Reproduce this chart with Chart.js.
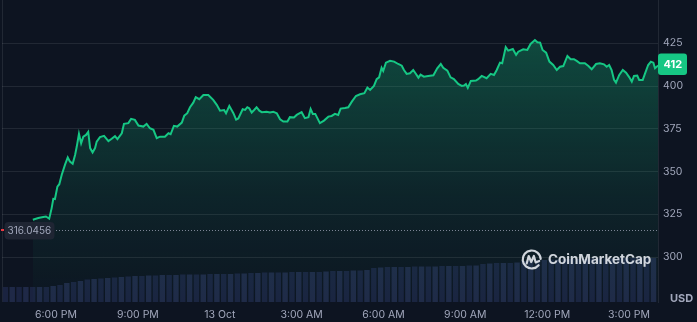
<!DOCTYPE html>
<html><head><meta charset="utf-8">
<script src="https://cdn.jsdelivr.net/npm/chart.js@4.4.1/dist/chart.umd.min.js"></script>
<style>html,body{margin:0;padding:0;background:#0d1421;overflow:hidden}</style>
</head><body>
<canvas id="c" width="697" height="322" style="display:block;width:697px;height:322px"></canvas>
<script>
// hours relative to 6:00 PM (12 Oct)
const priceTimes = [-0.85,-0.65,-0.47,-0.37,-0.25,-0.16,-0.10,-0.04,0.05,0.12,0.21,0.33,0.43,0.51,0.61,0.70,0.76,0.84,0.92,1.00,1.10,1.18,1.25,1.34,1.43,1.49,1.61,1.76,1.92,2.04,2.16,2.25,2.41,2.49,2.65,2.75,2.89,3.02,3.20,3.32,3.44,3.57,3.69,3.81,3.99,4.12,4.20,4.32,4.44,4.61,4.70,4.81,4.91,5.03,5.12,5.25,5.40,5.58,5.76,5.89,6.01,6.16,6.23,6.35,6.50,6.60,6.68,6.84,6.93,7.01,7.08,7.17,7.26,7.35,7.45,7.54,7.72,7.84,7.96,8.09,8.21,8.33,8.48,8.57,8.72,8.82,9.00,9.12,9.25,9.33,9.41,9.50,9.67,9.82,9.98,10.10,10.22,10.34,10.43,10.59,10.71,10.84,10.99,11.14,11.30,11.41,11.51,11.65,11.75,11.84,11.93,11.99,12.09,12.24,12.39,12.54,12.67,12.75,12.85,12.97,13.09,13.16,13.28,13.36,13.48,13.64,13.83,13.97,14.10,14.19,14.34,14.46,14.58,14.74,14.87,14.95,15.02,15.09,15.20,15.39,15.47,15.60,15.78,15.93,16.05,16.15,16.27,16.35,16.48,16.57,16.74,16.86,16.94,17.12,17.27,17.39,17.55,17.64,17.74,17.83,17.96,18.08,18.22,18.35,18.47,18.59,18.74,18.86,18.98,19.08,19.20,19.38,19.51,19.63,19.79,19.93,20.08,20.18,20.27,20.36,20.45,20.52,20.64,20.77,20.89,21.01,21.10,21.18,21.30,21.37,21.50,21.58,21.70,21.80,21.89,21.95,22.01,22.07];
const priceValues = [321.8,322.8,323.4,323.7,322.4,328.6,334.0,333.9,341.2,342.6,348.1,354.0,358.2,355.8,354.5,359.8,364.6,372.0,366.5,370.4,371.4,373.2,363.7,361.2,363.7,367.5,370.1,370.9,367.8,369.2,370.7,368.9,372.4,377.9,378.3,380.8,380.2,376.9,376.3,377.9,375.3,374.4,369.5,370.4,370.4,372.4,371.8,376.7,376.3,378.6,382.7,384.1,387.6,390.3,393.5,392.3,394.8,394.8,391.9,389.0,385.6,386.0,384.1,388.4,384.1,380.4,381.0,386.4,386.0,387.6,387.0,384.5,386.0,387.6,385.6,384.7,385.0,384.5,385.0,384.1,380.6,379.2,379.2,381.8,381.6,383.1,384.7,381.2,381.8,386.6,383.7,383.7,378.3,379.8,382.1,382.5,383.7,383.1,386.8,387.2,387.6,390.9,394.2,395.2,395.8,399.1,397.7,400.1,404.0,405.1,410.7,408.8,413.7,414.8,414.3,412.9,411.9,409.4,407.1,407.5,409.4,407.8,404.9,406.7,405.5,405.9,406.3,410.4,412.9,410.7,409.0,405.1,404.1,401.2,400.1,400.3,401.2,398.9,403.0,403.2,404.0,405.9,404.6,407.1,406.5,409.4,413.7,413.3,422.7,420.7,421.7,418.2,420.1,421.5,421.1,424.6,426.9,425.6,425.4,421.1,419.5,414.3,412.3,409.4,411.3,411.7,417.6,415.7,415.7,414.7,413.3,413.3,411.7,409.8,412.9,413.3,412.7,411.3,412.3,409.4,403.6,402.0,406.5,409.4,407.8,405.1,402.6,405.9,406.1,403.6,403.6,407.1,412.3,414.3,413.7,410.4,411.3,412.0];
// 15-minute volume bars (relative units), starting at the left edge of the window
const volumeValues = [15,15,15,15,15,15,15,16,17,19,20,21,22.5,23,23.5,24,24.5,25,25.5,26,26,26.5,26.5,27,27,27,27.5,27.5,27.5,27.5,28,28,28,28,28.5,28.5,29,29,29.5,29.5,29.5,29.5,30,30,30,30,30,30.5,31,31,31,31.5,31.5,32,34,34.5,35,35,35,35,35.5,35.5,35.5,35.5,36,36,36,36,36.5,36.5,38,38.5,39,39,39,39.5,41,41.5,42,42,42.5,42.5,43,43,43,43,43.5,43.5,43.5,43.5,44,44,44,44,44,44];
const xMinHour = -1.98, xMaxHour = 22.06;
const volumeStepHours = 0.25;
const xTickHours = [0,3,6,9,12,15,18,21];
const xTickLabels = ["6:00 PM","9:00 PM","13 Oct","3:00 AM","6:00 AM","9:00 AM","12:00 PM","3:00 PM"];
const yTickValues = [300,325,350,375,400,425];
const baselineValue = 316.0456;
const lastPrice = 412;

const FONT = "Inter, 'Noto Sans', sans-serif";
const GREEN = '#16c784';
const TEXT = '#a1a7bb';
const GRID = 'rgba(255,255,255,0.085)';

const pricePoints = priceTimes.map((t,i)=>({x:t,y:priceValues[i]}));
const volumePoints = volumeValues.map((v,i)=>({x:xMinHour + volumeStepHours*(i+0.5), y:v}));

const decor = {
  id:'decor',
  beforeDatasetsDraw(chart){
    const {ctx, chartArea:a} = chart;
    ctx.save();
    ctx.strokeStyle = GRID; ctx.lineWidth = 1;
    ctx.beginPath(); ctx.moveTo(a.left+0.5, a.top); ctx.lineTo(a.left+0.5, a.bottom); ctx.stroke();
    ctx.restore();
  },
  afterDatasetsDraw(chart){
    const {ctx, chartArea:a, scales} = chart;
    const y = Math.round(scales.y.getPixelForValue(baselineValue))+0.5;
    ctx.save();
    ctx.strokeStyle = 'rgba(161,167,187,0.75)'; ctx.lineWidth = 1; ctx.setLineDash([1,2]);
    ctx.beginPath(); ctx.moveTo(56, y); ctx.lineTo(a.right, y); ctx.stroke();
    ctx.setLineDash([]);
    ctx.fillStyle = '#ea3943'; ctx.fillRect(1, y-1.5, 3, 2);
    ctx.fillStyle = '#1f2533';
    ctx.beginPath(); ctx.roundRect(4.5, y-8.5, 50, 17.5, 4); ctx.fill();
    ctx.fillStyle = TEXT; ctx.font = '10px '+FONT; ctx.textBaseline='middle'; ctx.textAlign='left';
    ctx.fillText(baselineValue.toFixed(4), 7.5, y+0.5);
    const py = scales.y.getPixelForValue(lastPrice);
    ctx.fillStyle = GREEN;
    ctx.beginPath(); ctx.roundRect(a.right, py-12, 29, 21.5, 3); ctx.fill();
    ctx.fillStyle = '#ffffff'; ctx.font = 'bold 11px '+FONT;
    ctx.fillText(String(lastPrice), a.right+5.5, py-1);
    ctx.fillStyle = TEXT; ctx.font = 'bold 11px '+FONT;
    ctx.fillText('USD', 670, 298.5);
    const cx = 531.7, cy = 259.5;
    ctx.strokeStyle = 'rgba(225,229,236,0.92)'; ctx.lineWidth = 2.2; ctx.lineCap='round'; ctx.lineJoin='round';
    ctx.beginPath(); ctx.arc(cx, cy, 9, 0.22*Math.PI, 1.98*Math.PI); ctx.stroke();
    ctx.beginPath();
    ctx.moveTo(cx-5, cy+4); ctx.lineTo(cx-3, cy-3.5); ctx.lineTo(cx-0.5, cy+2.5); ctx.lineTo(cx+2.2, cy-3.5);
    ctx.lineTo(cx+4, cy+3); ctx.lineTo(cx+7.5, cy+1.5);
    ctx.stroke();
    ctx.fillStyle = 'rgba(225,229,236,0.92)'; ctx.font = 'bold 13.5px '+FONT;
    ctx.fillText('CoinMarketCap', 548, cy+0.5);
    ctx.restore();
  }
};

new Chart(document.getElementById('c'), {
  data:{
    datasets:[
      {type:'line', data:pricePoints, yAxisID:'y', order:0,
       borderColor:GREEN, borderWidth:2, pointRadius:0, tension:0,
       fill:'start',
       backgroundColor:(c)=>{
         const ch=c.chart, a=ch.chartArea; if(!a) return 'rgba(22,199,132,0.1)';
         const g=ch.ctx.createLinearGradient(0,a.top+40,0,a.bottom);
         g.addColorStop(0,'rgba(22,199,132,0.30)');
         g.addColorStop(0.6,'rgba(22,199,132,0.09)');
         g.addColorStop(1,'rgba(22,199,132,0.01)');
         return g;
       }},
      {type:'bar', data:volumePoints, yAxisID:'yv', order:1,
       backgroundColor:(c)=> c.dataIndex%2 ? '#1f2947' : '#1a2340',
       barPercentage:0.8, categoryPercentage:1}
    ]
  },
  options:{
    responsive:false, animation:false, devicePixelRatio:1,
    layout:{padding:{left:2,top:0,right:0,bottom:0}},
    plugins:{legend:{display:false}, tooltip:{enabled:false}},
    scales:{
      x:{type:'linear', min:xMinHour, max:xMaxHour, offset:false,
         grid:{display:false, drawTicks:false}, border:{display:false},
         afterBuildTicks:(s)=>{ s.ticks = xTickHours.map(v=>({value:v})); },
         afterFit:(s)=>{ s.height = 20; s.paddingLeft = 0; s.paddingRight = 0; },
         ticks:{color:TEXT, font:{family:FONT,size:10.5}, padding:7, maxRotation:0, autoSkip:false,
                callback:(v,i)=> xTickLabels[i]}},
      y:{position:'right', min:273.68, max:450.33,
         grid:{color:GRID, drawTicks:false}, border:{display:true, color:GRID},
         afterBuildTicks:(s)=>{ s.ticks = yTickValues.map(v=>({value:v})); },
         afterFit:(s)=>{ s.width = 39; s.paddingTop = 0; s.paddingBottom = 0; },
         ticks:{color:TEXT, font:{family:FONT,size:10.5}, padding:5, callback:(v)=>String(v)}},
      yv:{display:false, min:0, max:302}
    }
  },
  plugins:[decor]
});
</script>
</body></html>
